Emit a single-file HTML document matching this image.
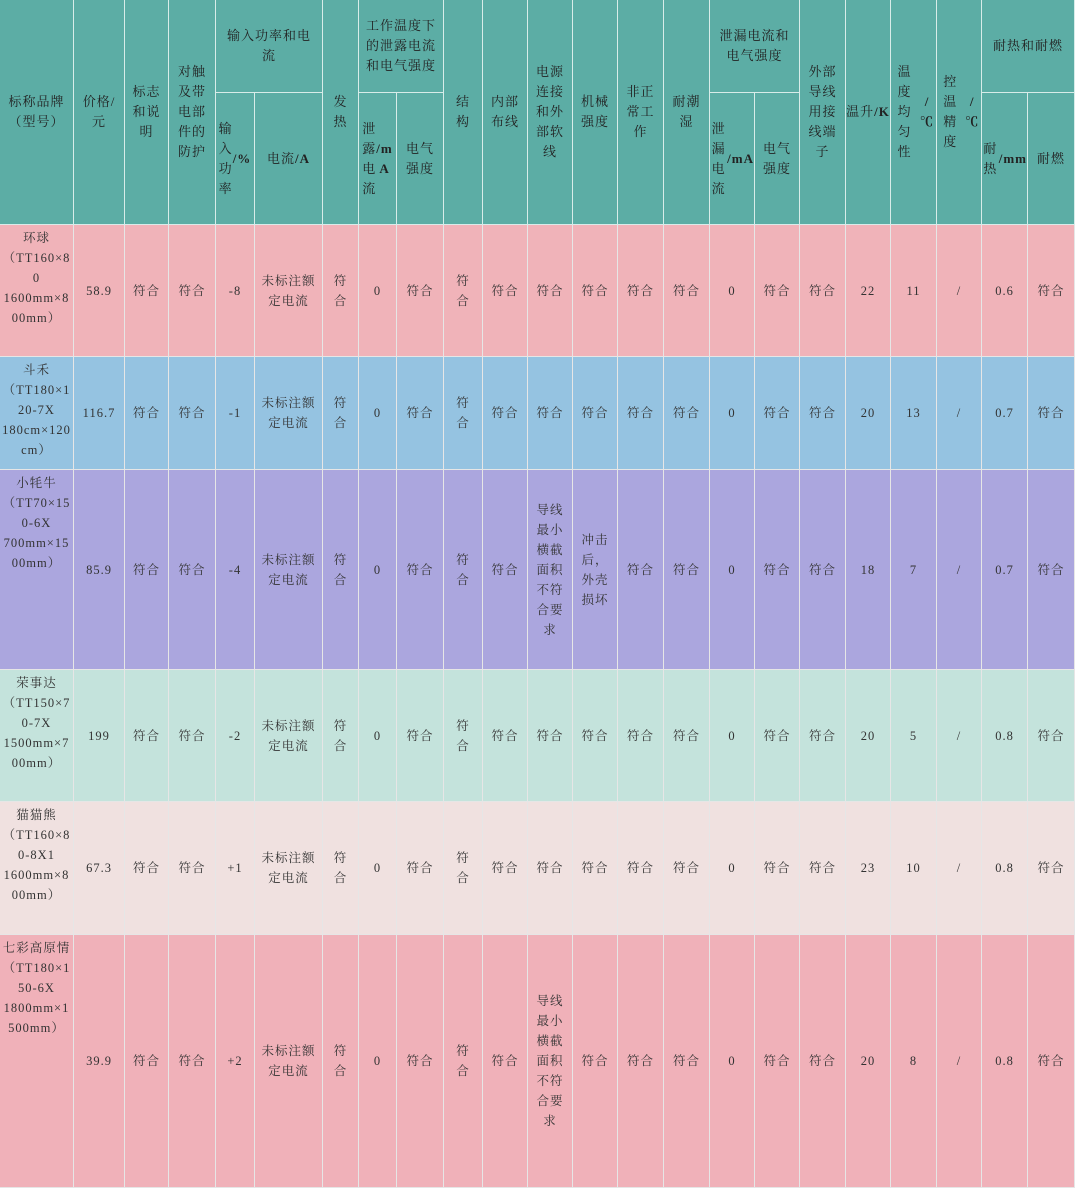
<!DOCTYPE html>
<html><head><meta charset="utf-8">
<style>
body{margin:0;width:1080px;height:1191px;background:#fff;position:relative;overflow:hidden;font-family:"Liberation Serif","Noto Serif CJK SC",serif;color:#333;}
.c{position:absolute;box-sizing:border-box;display:flex;align-items:center;justify-content:center;text-align:center;font-size:12.5px;line-height:20px;border-right:1.5px solid #e6e6e6;border-bottom:1.5px solid #e6e6e6;letter-spacing:1px}
.h{background:#5cada5;color:#222;font-size:13px;border-color:#d8ece9}
.top{align-items:flex-start;padding-top:3px}
</style></head><body>
<script>
const xs=[0,74,125,169,216,255,323,359,397,444,483,528,573,618,664,710,755,800,846,891,937,982,1028,1075];
const ys=[225,357,470,670,802,935,1188];
const rowColors=['#f0b3b9','#95c3e1','#aba6de','#c4e3dc','#f0e1e0','#f0b1b9'];
const brands=['环球<br>（TT160×8<br>0<br>1600mm×8<br>00mm）','斗禾<br>（TT180×1<br>20-7X<br>180cm×120<br>cm）','小牦牛<br>（TT70×15<br>0-6X<br>700mm×15<br>00mm）','荣事达<br>（TT150×7<br>0-7X<br>1500mm×7<br>00mm）','猫猫熊<br>（TT160×8<br>0-8X1<br>1600mm×8<br>00mm）','七彩高原情<br>（TT180×1<br>50-6X<br>1800mm×1<br>500mm）'];
const prices=['58.9','116.7','85.9','199','67.3','39.9'];
const powerDev=['-8','-1','-4','-2','+1','+2'];
const tempRise=['22','20','18','20','23','20'];
const uniformity=['11','13','7','5','10','8'];
const heatRes=['0.6','0.7','0.7','0.8','0.8','0.8'];
const cordCol=['符合','符合','导线<br>最小<br>横截<br>面积<br>不符<br>合要<br>求','符合','符合','导线<br>最小<br>横截<br>面积<br>不符<br>合要<br>求'];
const mechCol=['符合','符合','冲击<br>后，<br>外壳<br>损坏','符合','符合','符合'];
const F='符合',F2='符<br>合';
function cell(x0,x1,y0,y1,html,cls,bg){
  const d=document.createElement('div');
  d.className='c '+cls;
  d.style.left=x0+'px';d.style.top=y0+'px';d.style.width=(x1-x0)+'px';d.style.height=(y1-y0)+'px';
  if(bg)d.style.background=bg;
  d.innerHTML=html;
  document.body.appendChild(d);
  return d;
}
// header
const H=[
 [0,1,0,2,'标称品牌<br>（型号）'],[1,2,0,2,'价格/<br>元'],[2,3,0,2,'标志<br>和说<br>明'],[3,4,0,2,'对触<br>及带<br>电部<br>件的<br>防护'],
 [4,6,0,1,'输入功率和电<br>流'],[4,5,1,2,'输<br>入<br>功<br>率<br><b>/%</b>'],[5,6,1,2,'电流<b>/A</b>'],
 [6,7,0,2,'发<br>热'],[7,9,0,1,'工作温度下<br>的泄露电流<br>和电气强度'],[7,8,1,2,'泄<br>露<br>电<br>流<br><b>/m<br>A</b>'],[8,9,1,2,'电气<br>强度'],
 [9,10,0,2,'结<br>构'],[10,11,0,2,'内部<br>布线'],[11,12,0,2,'电源<br>连接<br>和外<br>部软<br>线'],[12,13,0,2,'机械<br>强度'],[13,14,0,2,'非正<br>常工<br>作'],[14,15,0,2,'耐潮<br>湿'],
 [15,17,0,1,'泄漏电流和<br>电气强度'],[15,16,1,2,'泄漏<br>电流<br><b>/mA</b>'],[16,17,1,2,'电气<br>强度'],
 [17,18,0,2,'外部<br>导线<br>用接<br>线端<br>子'],[18,19,0,2,'温升<br><b>/K</b>'],[19,20,0,2,'温度<br>均匀<br>性<br><b>/℃</b>'],[20,21,0,2,'控温<br>精度<br><b>/℃</b>'],
 [21,23,0,1,'耐热和耐燃'],[21,22,1,2,'耐热<br><b>/mm</b>'],[22,23,1,2,'耐燃']
];
const hy=[0,93,225];
H.forEach((h,i)=>{
  const d=cell(xs[h[0]],xs[h[1]],hy[h[2]],hy[h[3]],h[4],'h');
  
  
});
for(let r=0;r<6;r++){
  const vals=[brands[r],prices[r],F,F,powerDev[r],'未标注额<br>定电流',F2,'0',F,F2,F,cordCol[r],mechCol[r],F,F,'0',F,F,tempRise[r],uniformity[r],'/',heatRes[r],F];
  for(let c=0;c<23;c++){
    const d=cell(xs[c],xs[c+1],ys[r],ys[r+1]-(0),vals[c],c===0?'top':'',rowColors[r]);
    d.style.top=(r===0?225:ys[r])+'px';
    
    
  }
}
</script>
</body></html>
